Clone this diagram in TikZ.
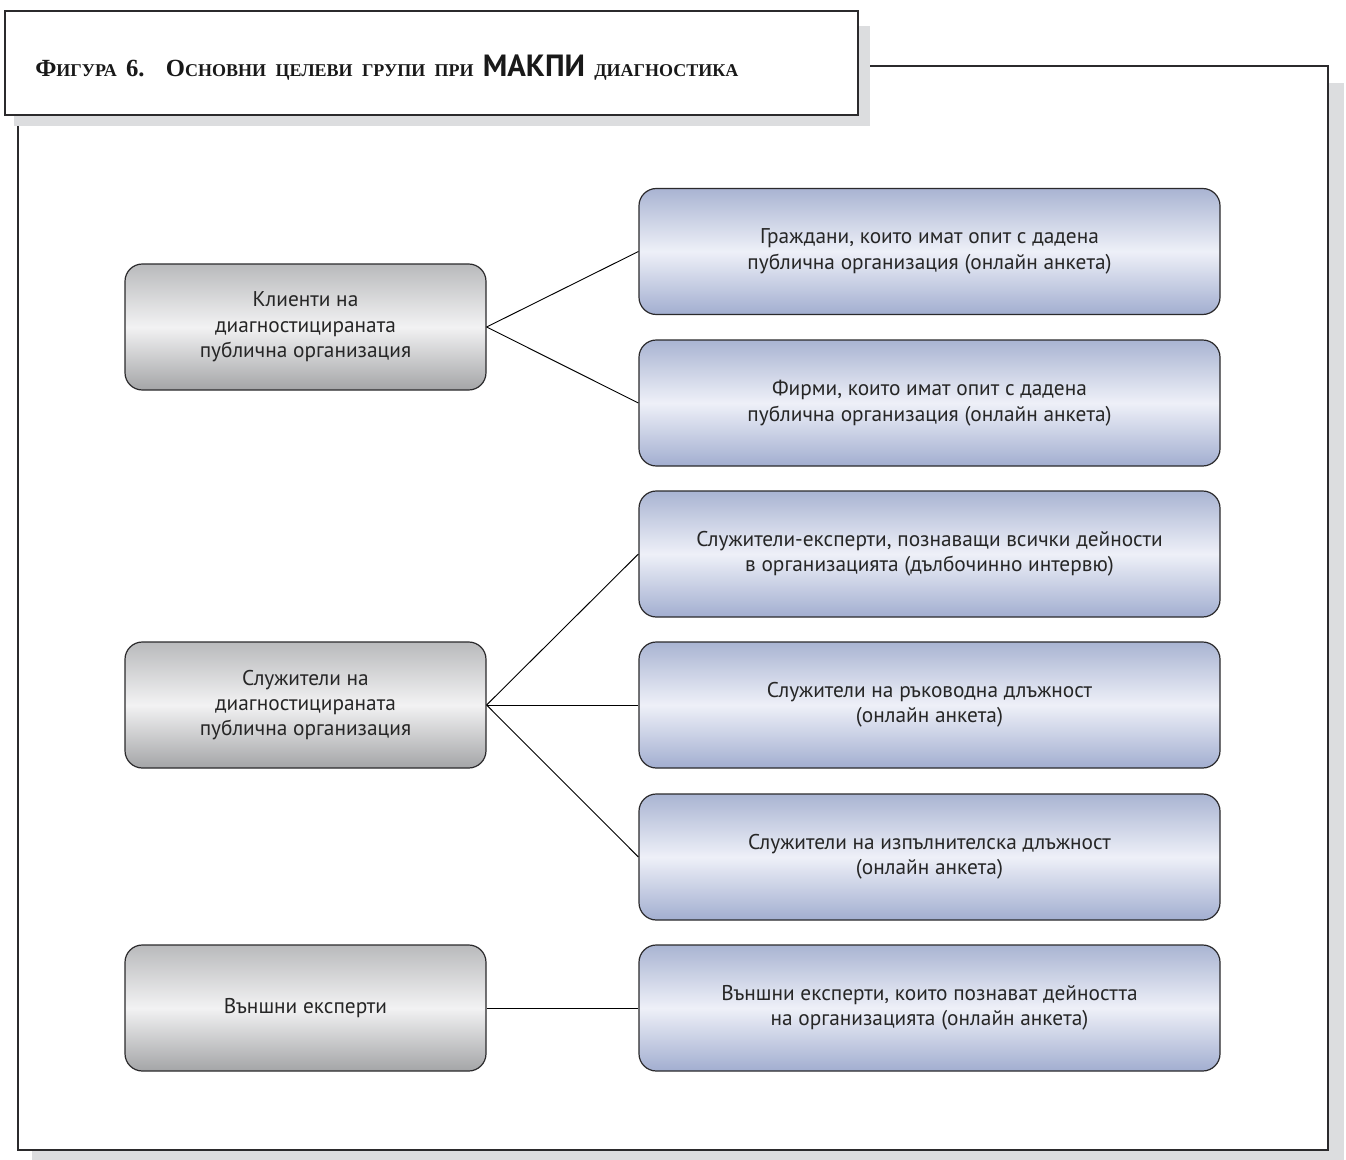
\documentclass[tikz,border=0pt]{standalone}
\usepackage{fontspec}
\setmainfont{PT Sans}
\newfontfamily\titlefont{Liberation Serif}
\definecolor{frameline}{HTML}{2B2A2C}
\definecolor{shadowgray}{HTML}{DCDDDF}
\definecolor{graytop}{HTML}{B9BABC}
\definecolor{graymid}{HTML}{F2F2F3}
\definecolor{graybot}{HTML}{A4A5A7}
\definecolor{bluetop}{HTML}{A9B4D2}
\definecolor{bluemid}{HTML}{EEF0F8}
\definecolor{bluebot}{HTML}{A2AED0}
\newcommand{\mysmallcap}[2]{{\fontsize{18.5}{20}\selectfont #1}{\fontsize{13.5}{15}\selectfont #2}}
\newcommand{\wsp}{\hspace{7pt}}
\tikzset{
  leftbox/.style={draw=frameline, line width=0.9pt, rounded corners=13pt,
    top color=graytop, bottom color=graybot, middle color=graymid,
    minimum width=270.75pt, minimum height=94.5pt, align=center, inner sep=0pt,
    font=\fontsize{16}{19}\selectfont, text=black!85},
  rightbox/.style={draw=frameline, line width=0.9pt, rounded corners=13pt,
    top color=bluetop, bottom color=bluebot, middle color=bluemid,
    minimum width=435.75pt, minimum height=94.5pt, align=center, inner sep=0pt,
    font=\fontsize{16}{19}\selectfont, text=black!85},
  conn/.style={draw=black, line width=0.7pt},
  frame/.style={draw=frameline, line width=1.8pt, fill=white},
  shadow/.style={fill=shadowgray, draw=none}
}
\begin{document}
\begin{tikzpicture}[x=0.75pt,y=-0.75pt]
\useasboundingbox (0,0) rectangle (1346,1160);
% main frame
\fill[shadow] (32,83) rectangle (1344,1160);
\draw[frame] (18,66) rectangle (1328,1150);
% title frame
\fill[shadow] (14,26) rectangle (870,126);
\draw[frame] (5,11) rectangle (858,115);
\node[anchor=base west, inner sep=0pt, font=\titlefont\bfseries, text=black!90] (title) at (35,76)
  {\mysmallcap{Ф}{ИГУРА}\wsp{\fontsize{18.5}{20}\selectfont 6.}\hspace{16pt}\mysmallcap{О}{СНОВНИ}\wsp\mysmallcap{}{ЦЕЛЕВИ}\wsp\mysmallcap{}{ГРУПИ}\wsp\mysmallcap{}{ПРИ}\wsp{\fontsize{23}{24}\selectfont\sffamily\fontspec{PT Sans}\bfseries МАКПИ}\wsp\mysmallcap{}{ДИАГНОСТИКА}};
% left boxes
\node[leftbox] (l1) at (305.5,327) {Клиенти на\\диагностицираната\\публична организация};
\node[leftbox] (l2) at (305.5,705) {Служители на\\диагностицираната\\публична организация};
\node[leftbox] (l3) at (305.5,1008) {Външни експерти};
% right boxes
\node[rightbox] (r1) at (929.5,251.5) {Граждани, които имат опит с дадена\\публична организация (онлайн анкета)};
\node[rightbox] (r2) at (929.5,403) {Фирми, които имат опит с дадена\\публична организация (онлайн анкета)};
\node[rightbox] (r3) at (929.5,554) {Служители-експерти, познаващи всички дейности\\в организацията (дълбочинно интервю)};
\node[rightbox] (r4) at (929.5,705) {Служители на ръководна длъжност\\(онлайн анкета)};
\node[rightbox] (r5) at (929.5,857) {Служители на изпълнителска длъжност\\(онлайн анкета)};
\node[rightbox] (r6) at (929.5,1008) {Външни експерти, които познават дейността\\на организацията (онлайн анкета)};
% connectors
\draw[conn] (l1.east) -- (r1.west);
\draw[conn] (l1.east) -- (r2.west);
\draw[conn] (l2.east) -- (r3.west);
\draw[conn] (l2.east) -- (r4.west);
\draw[conn] (l2.east) -- (r5.west);
\draw[conn] (l3.east) -- (r6.west);
\end{tikzpicture}
\end{document}
